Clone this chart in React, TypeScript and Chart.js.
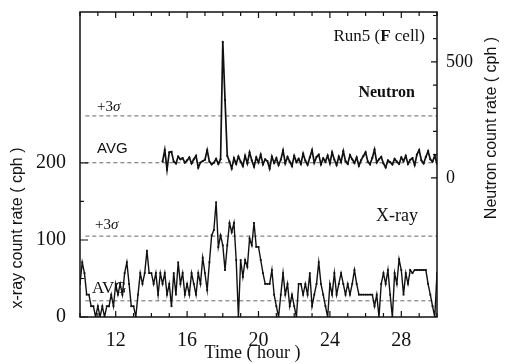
import React, { useEffect, useRef } from "react";
import { Chart, registerables } from "chart.js";

Chart.register(...registerables);

// ---- axes ----
const X_MIN = 10;
const X_MAX = 30;
const X_TICK_LABELS = [12, 16, 20, 24, 28];
const LEFT_MIN = 0;
const LEFT_MAX = 396;
const LEFT_TICK_LABELS = [0, 100, 200];
const RIGHT_MIN = -600;
const RIGHT_MAX = 715;
const RIGHT_TICK_LABELS = [0, 500];

// ---- X-ray count rate (cph), sampled every 0.125 h from 10 h ----
const XRAY_START = 10;
const XRAY_STEP = 0.125;
const xrayRate = [
  43, 71, 57, 29, 29, 14, 14, 0,
  14, 0, 14, 0, 14, 14, 29, 14,
  43, 29, 43, 29, 57, 71, 43, 14,
  14, 0, 29, 57, 43, 57, 86, 57,
  57, 43, 57, 29, 57, 43, 57, 29,
  43, 14, 57, 29, 71, 43, 57, 29,
  43, 29, 57, 43, 29, 57, 43, 77,
  57, 35, 71, 106, 113, 149, 91, 106,
  93, 61, 93, 122, 110, 122, 74, 0,
  74, 52, 74, 65, 102, 93, 122, 91,
  91, 74, 57, 43, 43, 43, 61, 29,
  14, 0, 29, 57, 29, 43, 14, 29,
  14, 0, 43, 43, 29, 43, 29, 57,
  14, 29, 43, 71, 43, 29, 14, 0,
  43, 29, 57, 29, 43, 57, 43, 29,
  43, 29, 43, 61, 43, 29, 29, 29,
  29, 29, 29, 29, 14, 29, 0, 43,
  57, 43, 61, 29, 0, 57, 43, 75,
  61, 29, 57, 43, 61, 57, 61, 61,
  61, 61, 61, 61, 43, 29, 14, 0,
  57,
];

// ---- Neutron count rate (cph), sampled every 0.125 h from 14.625 h ----
const NEUTRON_START = 14.625;
const NEUTRON_STEP = 0.125;
const neutronRate = [
  70, 120, 35,
  110, 112, 70, 62, 92, 80, 85, 66,
  75, 88, 62, 80, 95, 44, 66, 72,
  78, 120, 70, 58, 65, 82, 60, 80,
  586, 336, 95, 70, 40, 85, 60, 92,
  70, 50, 95, 62, 110, 75, 48, 88,
  66, 100, 58, 80, 72, 40, 92, 64,
  85, 55, 78, 118, 62, 90, 70, 50,
  95, 68, 82, 60, 105, 74, 56, 88,
  120, 65, 90, 100, 58, 84, 70, 96,
  62, 110, 78, 55, 92, 68, 115, 72,
  60, 98, 80, 64, 88, 52, 76, 94,
  110, 70, 58, 86, 122, 66, 80, 90,
  62, 45, 75, 68, 58, 82, 70, 60,
  88, 72, 95, 60, 78, 85, 55, 100,
  120, 75, 62, 90, 115, 80, 70, 95,
  60,
];

// ---- reference levels ----
const XRAY_AVG = 21;
const XRAY_3SIGMA = 105;
const NEUTRON_AVG = 65;
const NEUTRON_3SIGMA = 267;
const REF_LINE_START = 10.3;

const INK = "#111";
const SERIF = '"Liberation Serif", "DejaVu Serif", serif';
const SANS = '"Liberation Sans", "DejaVu Sans", sans-serif';

function series(start: number, step: number, values: number[]) {
  return values.map((v, i) => ({ x: start + i * step, y: v }));
}

function drawMixed(
  ctx: CanvasRenderingContext2D,
  parts: { text: string; font: string }[],
  x: number,
  y: number,
  align: "left" | "right"
) {
  let total = 0;
  for (const p of parts) {
    ctx.font = p.font;
    total += ctx.measureText(p.text).width;
  }
  let cx = align === "left" ? x : x - total;
  ctx.textAlign = "left";
  for (const p of parts) {
    ctx.font = p.font;
    ctx.fillText(p.text, cx, y);
    cx += ctx.measureText(p.text).width;
  }
}

const decorPlugin = {
  id: "decor",
  afterDraw(chart: any) {
    const ctx: CanvasRenderingContext2D = chart.ctx;
    const { left, right, top, bottom } = chart.chartArea;
    const xs = chart.scales.x;
    const yl = chart.scales.yLeft;
    const yr = chart.scales.yRight;
    ctx.save();
    ctx.strokeStyle = INK;
    ctx.fillStyle = INK;
    ctx.lineWidth = 1.5;
    ctx.strokeRect(left, top, right - left, bottom - top);

    // inward tick marks
    ctx.lineWidth = 1.2;
    ctx.beginPath();
    for (let h = X_MIN; h <= X_MAX; h += 1) {
      const px = xs.getPixelForValue(h);
      const len = X_TICK_LABELS.includes(h) ? 6 : 4;
      ctx.moveTo(px, bottom);
      ctx.lineTo(px, bottom - len);
      ctx.moveTo(px, top);
      ctx.lineTo(px, top + len);
    }
    for (let v = 0; v <= 200; v += 50) {
      const py = yl.getPixelForValue(v);
      const len = LEFT_TICK_LABELS.includes(v) ? 8 : 4;
      ctx.moveTo(left, py);
      ctx.lineTo(left + len, py);
    }
    for (let v = 0; v <= 700; v += 100) {
      const py = yr.getPixelForValue(v);
      const len = RIGHT_TICK_LABELS.includes(v) ? 6 : 4;
      ctx.moveTo(right, py);
      ctx.lineTo(right - len, py);
    }
    ctx.stroke();

    // annotations
    ctx.textBaseline = "middle";
    drawMixed(
      ctx,
      [
        { text: "Run5 (", font: `17px ${SERIF}` },
        { text: "F", font: `bold 17px ${SERIF}` },
        { text: " cell)", font: `17px ${SERIF}` },
      ],
      right - 12,
      top + 25,
      "right"
    );
    drawMixed(ctx, [{ text: "Neutron", font: `bold 16px ${SERIF}` }], right - 22, 93, "right");
    drawMixed(ctx, [{ text: "X-ray", font: `18px ${SERIF}` }], right - 19, 216, "right");

    const sig3N = yr.getPixelForValue(NEUTRON_3SIGMA);
    drawMixed(
      ctx,
      [
        { text: "+3", font: `15px ${SERIF}` },
        { text: "σ", font: `italic 15px ${SERIF}` },
      ],
      left + 17,
      sig3N - 9,
      "left"
    );
    const avgN = yr.getPixelForValue(NEUTRON_AVG);
    drawMixed(ctx, [{ text: "AVG", font: `15px ${SANS}` }], left + 17, avgN - 14, "left");

    const sig3X = yl.getPixelForValue(XRAY_3SIGMA);
    drawMixed(
      ctx,
      [
        { text: "+3", font: `15px ${SERIF}` },
        { text: "σ", font: `italic 15px ${SERIF}` },
      ],
      left + 15,
      sig3X - 11,
      "left"
    );
    const avgX = yl.getPixelForValue(XRAY_AVG);
    drawMixed(ctx, [{ text: "AVG", font: `17px ${SERIF}` }], left + 12, avgX - 12, "left");

    // axis titles
    ctx.textAlign = "center";
    ctx.font = `18px ${SERIF}`;
    ctx.fillText("Time ( hour )", (left + right) / 2 - 6, 353);

    ctx.font = `16px ${SANS}`;
    ctx.save();
    ctx.translate(18, 228);
    ctx.rotate(-Math.PI / 2);
    ctx.fillText("x-ray count rate ( cph )", 0, 0);
    ctx.restore();

    ctx.save();
    ctx.translate(492, 128);
    ctx.rotate(-Math.PI / 2);
    ctx.fillText("Neutron count rate ( cph )", 0, 0);
    ctx.restore();

    ctx.restore();
  },
};

const setTicks = (values: number[]) => (s: any) => {
  s.ticks = values.map((v) => ({ value: v }));
};

export default function App() {
  const ref = useRef<HTMLCanvasElement | null>(null);

  useEffect(() => {
    if (!ref.current) return;
    const refDash = {
      borderColor: "#666",
      borderWidth: 1,
      borderDash: [4, 3],
      pointRadius: 0,
      fill: false,
    };
    const fitY = (w: number) => (s: any) => {
      s.width = w;
      s.paddingTop = 0;
      s.paddingBottom = 0;
    };
    const noGrid = { display: false, drawTicks: false };
    const chart = new Chart(ref.current, {
      type: "line",
      data: {
        datasets: [
          {
            label: "Neutron",
            data: series(NEUTRON_START, NEUTRON_STEP, neutronRate),
            yAxisID: "yRight",
            borderColor: INK,
            borderWidth: 1.7,
            pointRadius: 1.1,
            pointBackgroundColor: INK,
            pointBorderWidth: 0,
            tension: 0,
          },
          {
            label: "X-ray",
            data: series(XRAY_START, XRAY_STEP, xrayRate),
            yAxisID: "yLeft",
            borderColor: INK,
            borderWidth: 1.4,
            pointRadius: 1.3,
            pointStyle: "rect",
            pointBackgroundColor: INK,
            pointBorderWidth: 0,
            tension: 0,
          },
          {
            label: "Neutron +3σ",
            data: [
              { x: REF_LINE_START, y: NEUTRON_3SIGMA },
              { x: X_MAX, y: NEUTRON_3SIGMA },
            ],
            yAxisID: "yRight",
            ...refDash,
          },
          {
            label: "Neutron AVG",
            data: [
              { x: REF_LINE_START, y: NEUTRON_AVG },
              { x: X_MAX, y: NEUTRON_AVG },
            ],
            yAxisID: "yRight",
            ...refDash,
          },
          {
            label: "X-ray +3σ",
            data: [
              { x: REF_LINE_START, y: XRAY_3SIGMA },
              { x: X_MAX, y: XRAY_3SIGMA },
            ],
            yAxisID: "yLeft",
            ...refDash,
          },
          {
            label: "X-ray AVG",
            data: [
              { x: REF_LINE_START, y: XRAY_AVG },
              { x: X_MAX, y: XRAY_AVG },
            ],
            yAxisID: "yLeft",
            ...refDash,
          },
        ],
      },
      options: {
        animation: false,
        responsive: false,
        maintainAspectRatio: false,
        layout: { padding: { top: 12, left: 0, right: 0, bottom: 0 } },
        plugins: { legend: { display: false }, tooltip: { enabled: false } },
        scales: {
          x: {
            type: "linear",
            min: X_MIN,
            max: X_MAX,
            grid: noGrid,
            border: { display: false },
            afterBuildTicks: setTicks(X_TICK_LABELS),
            afterFit: (s: any) => {
              s.height = 47;
              s.paddingLeft = 0;
              s.paddingRight = 0;
            },
            ticks: {
              autoSkip: false,
              maxRotation: 0,
              padding: 12,
              color: INK,
              font: { family: SERIF, size: 20 },
            },
          },
          yLeft: {
            type: "linear",
            position: "left",
            min: LEFT_MIN,
            max: LEFT_MAX,
            grid: noGrid,
            border: { display: false },
            afterBuildTicks: setTicks(LEFT_TICK_LABELS),
            afterFit: fitY(80),
            ticks: {
              autoSkip: false,
              padding: 14,
              color: INK,
              font: { family: SERIF, size: 20 },
            },
          },
          yRight: {
            type: "linear",
            position: "right",
            min: RIGHT_MIN,
            max: RIGHT_MAX,
            grid: noGrid,
            border: { display: false },
            afterBuildTicks: setTicks(RIGHT_TICK_LABELS),
            afterFit: fitY(71),
            ticks: {
              autoSkip: false,
              padding: 9,
              color: INK,
              font: { family: SERIF, size: 18 },
            },
          },
        },
      },
      plugins: [decorPlugin],
    } as any);
    return () => chart.destroy();
  }, []);

  return (
    <div
      style={{
        position: "fixed",
        left: 0,
        top: 0,
        width: 508,
        height: 364,
        background: "#fff",
      }}
    >
      <canvas ref={ref} width={508} height={364} style={{ display: "block" }} />
    </div>
  );
}
